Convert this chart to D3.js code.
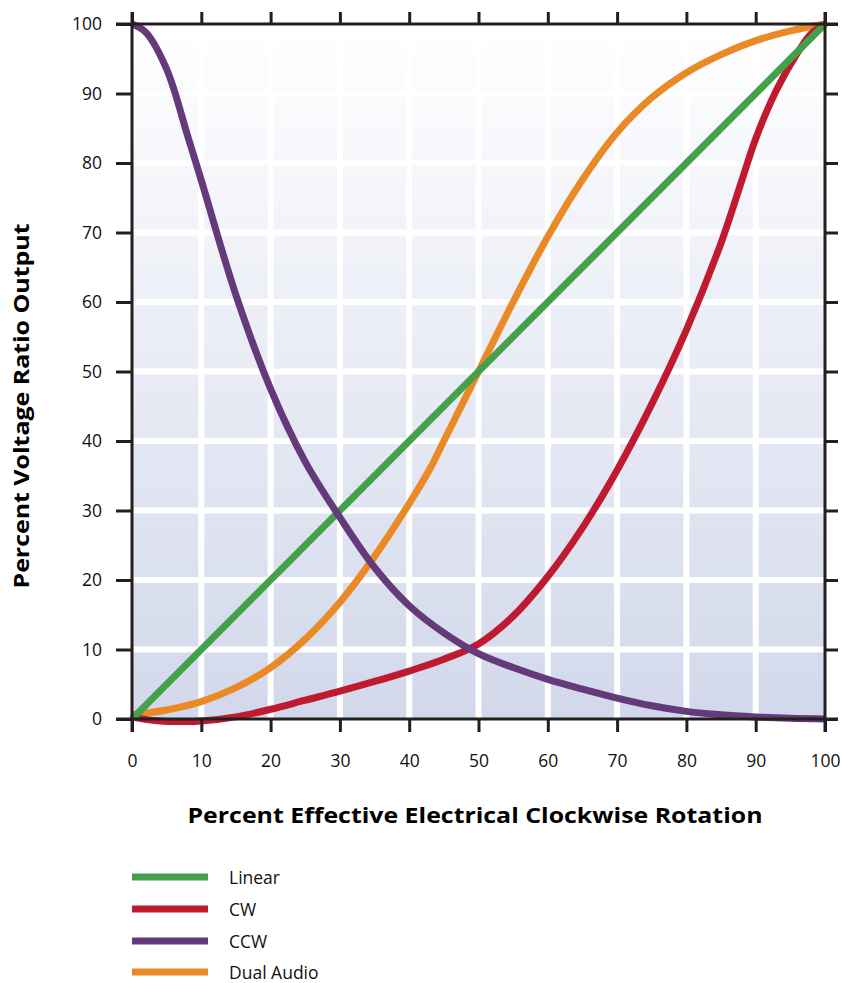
<!DOCTYPE html>
<html><head><meta charset="utf-8">
<script src="https://cdn.jsdelivr.net/npm/d3@7"></script>
<style>body{margin:0;background:#fff}svg{display:block}</style>
</head><body>
<svg id="chart" width="842" height="983"></svg>
<script>
const xTicks = [0,10,20,30,40,50,60,70,80,90,100];
const yTicks = [0,10,20,30,40,50,60,70,80,90,100];
const linearX = [0,100];
const linearY = [0,100];
const cwX = [0,3,7,10,15,20,25,30,35,40,45,50,55,60,65,70,75,80,85,88,90,93,96,98,100];
const cwY = [0.3,-0.2,-0.4,-0.3,0.3,1.4,2.7,4,5.4,6.9,8.6,10.8,14.8,20.5,27.5,35.8,45.3,56,68.5,77.5,83.5,90.5,95.8,98.6,100];
const ccwX = [0,2,5,8,10,15,20,25,30,35,40,45,50,55,60,65,70,75,80,85,90,95,100];
const ccwY = [100,98.8,93.5,84,77.5,61,47.5,37,29,21.8,16.3,12.4,9.4,7.4,5.7,4.3,3,1.9,1.1,0.6,0.3,0.1,0];
const dualX = [0,5,10,15,20,25,30,35,40,43,45,50,55,60,65,70,75,80,85,90,95,100];
const dualY = [0.6,1.3,2.5,4.5,7.4,11.5,16.8,23.4,31,36,40,50,60,69.4,77.6,84.4,89.4,93,95.6,97.6,99,100];
const seriesNames = ["Linear","CW","CCW","Dual Audio"];
const seriesColors = ["#45a04a","#c01a31","#643a7b","#ea8a26"];

const svg = d3.select("#chart");
const L=132, R=825, T=24, B=719;
const x = d3.scaleLinear().domain([0,100]).range([L,R]);
const y = d3.scaleLinear().domain([0,100]).range([B,T]);

const defs = svg.append("defs");
const grad = defs.append("linearGradient").attr("id","bg").attr("x1",0).attr("y1",0).attr("x2",0).attr("y2",1);
grad.append("stop").attr("offset","0%").attr("stop-color","#ffffff");
grad.append("stop").attr("offset","100%").attr("stop-color","#d2d8eb");
defs.append("clipPath").attr("id","clip").append("rect").attr("x",L-6).attr("y",T-6).attr("width",R-L+12).attr("height",B-T+12);

svg.append("rect").attr("x",L).attr("y",T).attr("width",R-L).attr("height",B-T).attr("fill","url(#bg)");

// grid
const g = svg.append("g");
g.selectAll(".vg").data(xTicks.slice(1,-1)).join("line")
  .attr("x1",d=>x(d)).attr("x2",d=>x(d)).attr("y1",T).attr("y2",B)
  .attr("stroke","#fff").attr("stroke-width",6);
g.selectAll(".hg").data(yTicks.slice(1,-1)).join("line")
  .attr("y1",d=>y(d)).attr("y2",d=>y(d)).attr("x1",L).attr("x2",R)
  .attr("stroke","#fff").attr("stroke-width",6);

// lines
const lineGen = d3.line().x(d=>x(d[0])).y(d=>y(d[1])).curve(d3.curveCatmullRom.alpha(0.5));
const data = {
  "Linear": linearX.map((v,i)=>[v,linearY[i]]),
  "CW": cwX.map((v,i)=>[v,cwY[i]]),
  "CCW": ccwX.map((v,i)=>[v,ccwY[i]]),
  "Dual Audio": dualX.map((v,i)=>[v,dualY[i]])
};
const drawOrder = ["Dual Audio","CW","Linear","CCW"];
const lg = svg.append("g").attr("clip-path","url(#clip)");
drawOrder.forEach(n=>{
  lg.append("path").datum(data[n]).attr("d",lineGen).attr("fill","none")
    .attr("stroke",seriesColors[seriesNames.indexOf(n)]).attr("stroke-width",7)
    .attr("stroke-linecap","butt").attr("stroke-linejoin","round");
});

// axes
const axCol = "#231f20";
function styleAxis(sel){
  sel.select(".domain").remove();
  sel.selectAll(".tick line").attr("stroke",axCol).attr("stroke-width",3);
  sel.selectAll(".tick text").attr("fill","#111").style("font-family","'Open Sans', sans-serif").style("font-size","17.5px");
}
svg.append("g").attr("transform",`translate(0,${B})`)
  .call(d3.axisBottom(x).tickValues(xTicks).tickSize(13).tickPadding(23))
  .call(styleAxis);
svg.append("g").attr("transform",`translate(0,${T})`)
  .call(d3.axisTop(x).tickValues(xTicks).tickSize(12).tickFormat(""))
  .call(styleAxis);
svg.append("g").attr("transform",`translate(${L},0)`)
  .call(d3.axisLeft(y).tickValues(yTicks).tickSize(16).tickPadding(14))
  .call(styleAxis);
svg.append("g").attr("transform",`translate(${R},0)`)
  .call(d3.axisRight(y).tickValues(yTicks).tickSize(13).tickFormat(""))
  .call(styleAxis);
// frame
svg.append("line").attr("x1",L-16).attr("x2",R+13).attr("y1",T).attr("y2",T).attr("stroke",axCol).attr("stroke-width",3);
svg.append("line").attr("x1",L-16).attr("x2",R+13).attr("y1",B).attr("y2",B).attr("stroke",axCol).attr("stroke-width",3);
svg.append("line").attr("x1",L).attr("x2",L).attr("y1",T-12).attr("y2",B+13).attr("stroke",axCol).attr("stroke-width",3);
svg.append("line").attr("x1",R).attr("x2",R).attr("y1",T-12).attr("y2",B+13).attr("stroke",axCol).attr("stroke-width",3);

// titles
svg.append("text").attr("x",475).attr("y",823).attr("text-anchor","middle")
  .style("font-family","'Open Sans', sans-serif").style("font-weight","bold").style("font-size","21px")
  .attr("textLength",575).attr("lengthAdjust","spacingAndGlyphs")
  .attr("fill","#000").text("Percent Effective Electrical Clockwise Rotation");
svg.append("text").attr("transform","translate(29,406) rotate(-90)").attr("text-anchor","middle")
  .style("font-family","'Open Sans', sans-serif").style("font-weight","bold").style("font-size","21px")
  .attr("textLength",365).attr("lengthAdjust","spacingAndGlyphs")
  .attr("fill","#000").text("Percent Voltage Ratio Output");

// legend
const legY = [877,909,941,972];
const leg = svg.append("g");
seriesNames.forEach((n,i)=>{
  leg.append("line").attr("x1",132).attr("x2",208).attr("y1",legY[i]).attr("y2",legY[i])
    .attr("stroke",seriesColors[i]).attr("stroke-width",7);
  leg.append("text").attr("x",229).attr("y",legY[i]+6.5)
    .style("font-family","'Open Sans', sans-serif").style("font-size","17.5px").attr("fill","#111").text(n);
});
</script>
</body></html>
